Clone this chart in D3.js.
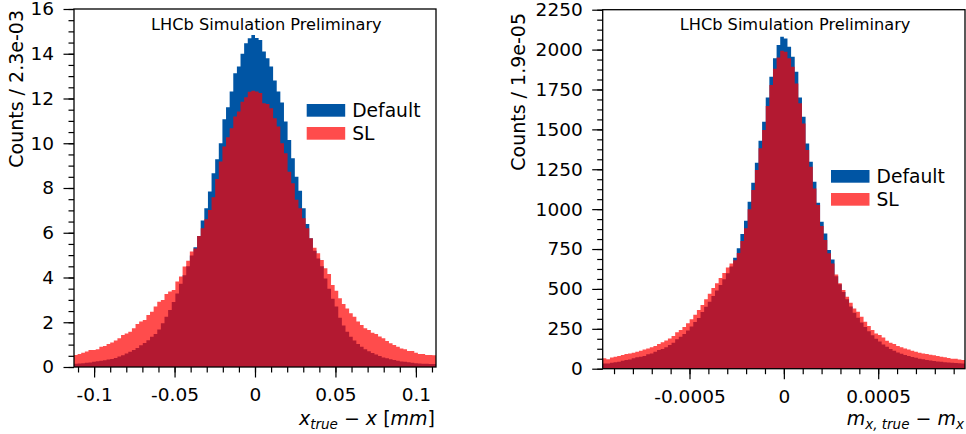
<!DOCTYPE html>
<html>
<head>
<meta charset="utf-8">
<script src="https://cdn.jsdelivr.net/npm/d3@7"></script>
<style>
  body { margin: 0; background: #fff; }
  text { font-family: "DejaVu Sans", sans-serif; fill: #000; }
</style>
</head>
<body>
<div id="chart"></div>
<script>
// bin contents, 100 bins each
const xDefault = [
  0.15,0.16,0.17,0.19,0.20,0.23,0.26,0.28,0.30,0.33,
  0.36,0.40,0.47,0.52,0.60,0.68,0.76,0.85,0.97,1.07,
  1.20,1.35,1.48,1.68,1.95,2.25,2.55,2.90,3.28,3.72,
  4.10,4.50,4.98,5.35,5.85,6.55,7.09,7.84,8.66,9.28,
  10.0,11.07,11.61,12.31,13.13,13.43,14.0,14.47,14.69,14.84,
  14.70,14.62,14.10,13.80,13.43,12.80,12.31,11.82,10.97,10.15,
  9.33,8.50,7.88,7.09,6.39,5.75,5.20,4.85,4.50,3.95,
  3.50,3.05,2.70,2.20,1.85,1.58,1.35,1.18,1.03,0.90,
  0.79,0.70,0.63,0.56,0.49,0.43,0.39,0.35,0.31,0.28,
  0.25,0.23,0.21,0.19,0.17,0.16,0.15,0.14,0.13,0.13
];
const xSL = [
  0.54,0.58,0.64,0.69,0.76,0.76,0.79,0.91,0.94,1.03,
  1.09,1.18,1.28,1.43,1.50,1.58,1.73,1.92,2.03,2.10,
  2.32,2.47,2.70,2.92,3.00,3.26,3.37,3.44,3.82,4.04,
  4.49,4.75,5.16,5.30,5.86,6.20,6.60,7.02,7.59,8.40,
  9.18,9.85,10.27,10.67,11.19,11.42,11.86,12.06,12.30,12.35,
  12.31,12.25,11.79,11.75,11.56,11.12,10.75,10.00,9.55,8.73,
  8.21,7.47,7.09,6.65,6.20,5.75,5.33,5.08,4.78,4.41,
  4.16,3.67,3.41,3.07,2.82,2.62,2.40,2.25,2.03,1.88,
  1.73,1.65,1.53,1.48,1.36,1.28,1.16,1.06,0.98,0.91,
  0.83,0.79,0.72,0.72,0.64,0.58,0.58,0.54,0.54,0.52
];
const mDefault = [
  33,33,38,40,44,50,54,58,65,71,
  75,79,90,96,107,117,123,134,148,163,
  185,200,217,240,265,292,318,355,388,420,
  455,490,525,560,598,640,695,755,844,928,
  1047,1166,1291,1429,1548,1700,1830,1945,2028,2081,
  2070,2018,1955,1861,1700,1579,1412,1297,1172,1040,
  921,848,744,685,580,530,480,435,390,350,
  320,290,262,235,210,188,170,152,138,124,
  112,102,94,86,79,73,68,63,59,55,
  51,48,45,43,41,39,37,35,34,33
];
const mSL = [
  65,60,70,75,79,86,92,96,100,107,
  113,121,127,134,142,155,165,177,190,205,
  228,243,262,285,310,338,368,400,435,470,
  505,535,568,600,635,660,680,725,800,880,
  1000,1120,1245,1381,1496,1646,1778,1880,1950,1993,
  1987,1945,1893,1788,1663,1537,1370,1266,1130,1026,
  894,806,723,660,590,535,493,451,414,378,
  357,326,295,267,242,221,211,196,175,163,
  155,142,134,127,121,113,107,100,96,92,
  88,84,79,75,71,67,63,63,58,54
];

// tick values and labels
const xTicks = [-0.1, -0.05, 0, 0.05, 0.1];
const xTickLabels = ["-0.1", "-0.05", "0", "0.05", "0.1"];
const xYTicks = [0, 2, 4, 6, 8, 10, 12, 14, 16];
const mTicks = [-0.0005, 0, 0.0005];
const mTickLabels = ["-0.0005", "0", "0.0005"];
const mYTicks = [0, 250, 500, 750, 1000, 1250, 1500, 1750, 2000, 2250];

const seriesNames = ["Default", "SL"];
const blue = "#0055a4";
const red = "#ff0000";

const svg = d3.select("#chart").append("svg")
  .attr("width", 966)
  .attr("height", 434);

function panel(cfg) {
  const x = d3.scaleLinear().domain(cfg.xDomain).range([cfg.box.x0, cfg.box.x1]);
  const y = d3.scaleLinear().domain(cfg.yDomain).range([cfg.box.y1, cfg.box.y0]);
  const n = cfg.def.length;
  const bw = (cfg.xDomain[1] - cfg.xDomain[0]) / n;

  const area = d3.area()
    .curve(d3.curveStepAfter)
    .x(d => x(d[0]))
    .y0(y(0))
    .y1(d => y(d[1]));
  const pts = vals => {
    const p = vals.map((v, i) => [cfg.xDomain[0] + i * bw, v]);
    p.push([cfg.xDomain[1], vals[n - 1]]);
    return p;
  };

  const g = svg.append("g");
  g.append("path").datum(pts(cfg.def)).attr("fill", blue).attr("d", area);
  g.append("path").datum(pts(cfg.sl)).attr("fill", red).attr("fill-opacity", 0.7).attr("d", area);

  // minor ticks
  g.append("g")
    .attr("transform", `translate(0,${cfg.box.y1})`)
    .call(d3.axisBottom(x).tickValues(cfg.xMinor).tickSize(5.5).tickFormat(""))
    .call(a => a.select(".domain").remove());
  g.append("g")
    .attr("transform", `translate(${cfg.box.x0},0)`)
    .call(d3.axisLeft(y).tickValues(cfg.yMinor).tickSize(5.5).tickFormat(""))
    .call(a => a.select(".domain").remove());

  // major ticks
  g.append("g")
    .attr("transform", `translate(0,${cfg.box.y1})`)
    .call(d3.axisBottom(x).tickValues(cfg.xTicks).tickSize(10.5).tickPadding(10.5)
      .tickFormat((d, i) => cfg.xLabels[i]))
    .call(a => a.select(".domain").remove())
    .call(a => a.selectAll("text").attr("font-size", 18.5).attr("font-family", "DejaVu Sans"));
  g.append("g")
    .attr("transform", `translate(${cfg.box.x0},0)`)
    .call(d3.axisLeft(y).tickValues(cfg.yTicks).tickSize(10.5).tickPadding(9.5)
      .tickFormat(d3.format("d")))
    .call(a => a.select(".domain").remove())
    .call(a => a.selectAll("text").attr("font-size", 18.5).attr("font-family", "DejaVu Sans"));

  g.selectAll(".tick line").attr("stroke", "#000").attr("stroke-width", 1.2);

  // frame
  g.append("rect")
    .attr("x", cfg.box.x0).attr("y", cfg.box.y0)
    .attr("width", cfg.box.x1 - cfg.box.x0).attr("height", cfg.box.y1 - cfg.box.y0)
    .attr("fill", "none").attr("stroke", "#000").attr("stroke-width", 1.3);

  // title text
  g.append("text")
    .attr("x", cfg.box.x0 + 77).attr("y", cfg.box.y0 + 20.5)
    .attr("font-size", 16.2)
    .text("LHCb Simulation Preliminary");

  // legend
  const lx = cfg.box.x0 + cfg.legend[0], ly = cfg.box.y0 + cfg.legend[1];
  seriesNames.forEach((name, i) => {
    g.append("rect")
      .attr("x", lx).attr("y", ly + i * 23)
      .attr("width", 38.5).attr("height", 12.7)
      .attr("fill", i === 0 ? blue : red)
      .attr("fill-opacity", i === 0 ? 1 : 0.7);
    g.append("text")
      .attr("x", lx + 45.5).attr("y", ly + 13.3 + i * 23)
      .attr("font-size", 18.7)
      .text(name);
  });

  // y label
  g.append("text")
    .attr("transform", "rotate(-90)")
    .attr("x", -(cfg.box.y0 + cfg.ylabelTop))
    .attr("y", cfg.ylabelX)
    .attr("text-anchor", "end")
    .attr("font-size", 19)
    .text(cfg.ylabel);

  // x label (math style)
  const xl = g.append("text")
    .attr("x", cfg.box.x1 - 1)
    .attr("y", 425)
    .attr("text-anchor", "end")
    .attr("font-size", 19);
  cfg.xlabel.forEach(p => {
    const t = xl.append("tspan").text(p.t);
    if (p.it) t.attr("font-style", "italic");
    if (p.sub) t.attr("font-size", 13.5).attr("dy", 4);
    if (p.up) t.attr("dy", -4);
  });
}

panel({
  box: { x0: 74, x1: 436, y0: 9, y1: 367 },
  xDomain: [-0.1125, 0.1125],
  yDomain: [0, 16],
  def: xDefault,
  sl: xSL,
  xTicks: xTicks,
  xLabels: xTickLabels,
  xMinor: d3.range(-11, 12).map(k => k * 0.01),
  yTicks: xYTicks,
  yMinor: d3.range(0, 33).map(k => k * 0.5),
  legend: [232.7, 95],
  ylabel: "Counts / 2.3e-03",
  ylabelTop: 1,
  ylabelX: 22.5,
  xlabel: [
    { t: "x", it: true },
    { t: "true", it: true, sub: true },
    { t: " \u2212 ", up: true },
    { t: "x", it: true },
    { t: " [" },
    { t: "mm", it: true },
    { t: "]" }
  ]
});

panel({
  box: { x0: 602.7, x1: 965, y0: 9.7, y1: 368.7 },
  xDomain: [-0.00096, 0.00096],
  yDomain: [0, 2250],
  def: mDefault,
  sl: mSL,
  xTicks: mTicks,
  xLabels: mTickLabels,
  xMinor: d3.range(-9, 10).map(k => k * 0.0001),
  yTicks: mYTicks,
  yMinor: d3.range(0, 37).map(k => k * 62.5),
  legend: [228.3, 160.3],
  ylabel: "Counts / 1.9e-05",
  ylabelTop: 3.3,
  ylabelX: 525,
  xlabel: [
    { t: "m", it: true },
    { t: "x, true", it: true, sub: true },
    { t: " \u2212 ", up: true },
    { t: "m", it: true },
    { t: "x", it: true, sub: true }
  ]
});
</script>
</body>
</html>
